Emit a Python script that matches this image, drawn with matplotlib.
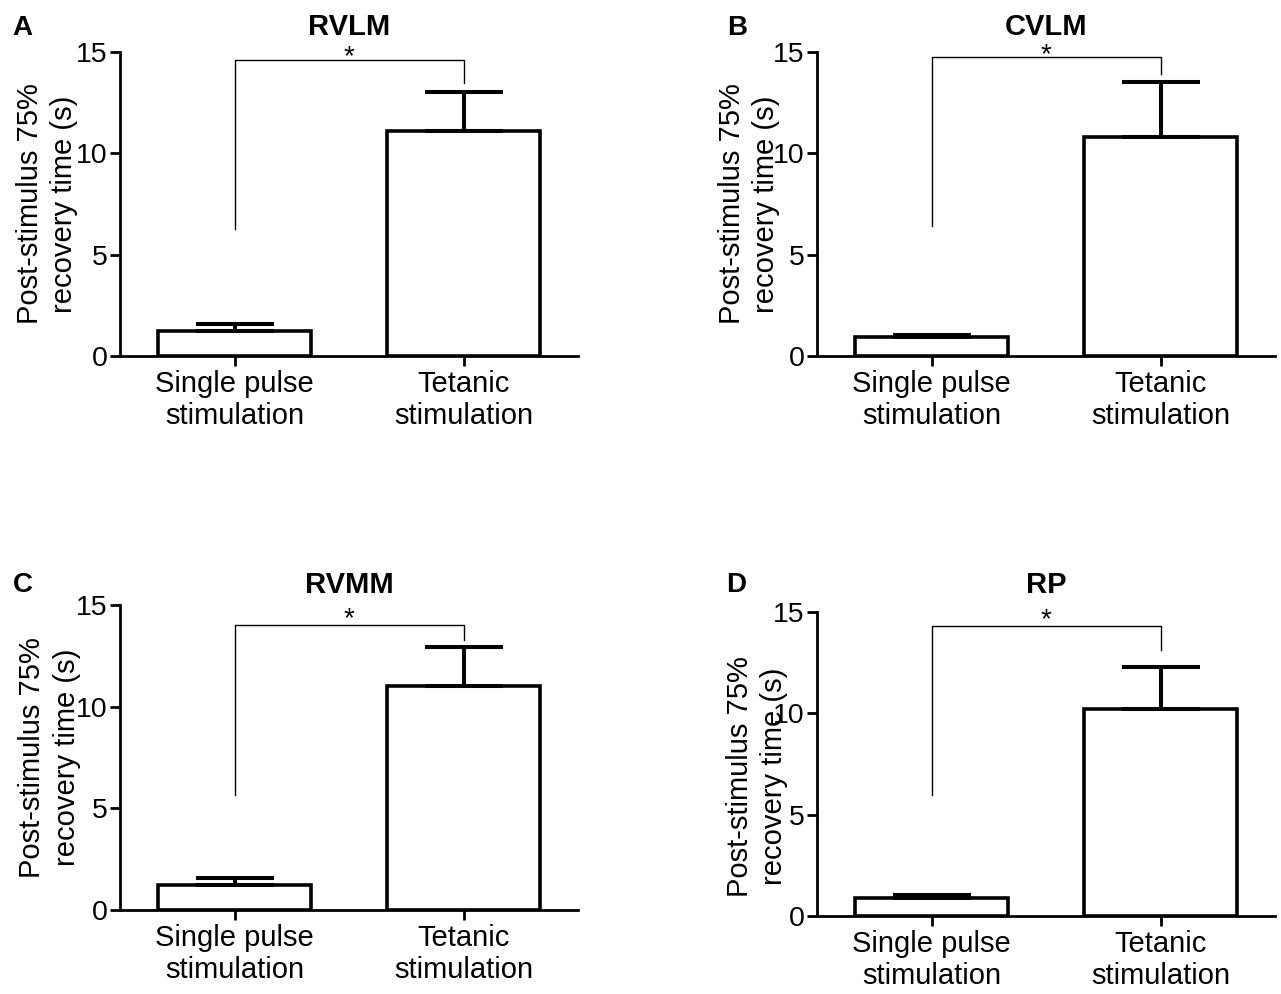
"""Four-panel bar chart: post-stimulus 75% recovery time, single pulse vs tetanic."""

import matplotlib.pyplot as plt

plt.rcParams["font.family"] = ["Liberation Sans", "DejaVu Sans"]

categories = ["Single pulse\nstimulation", "Tetanic\nstimulation"]
panel_letters = ["A", "B", "C", "D"]
regions = ["RVLM", "CVLM", "RVMM", "RP"]

# mean and upper SEM per panel (single pulse, tetanic)
rvlm_mean = [1.25, 11.1]
rvlm_err = [0.33, 1.92]
cvlm_mean = [0.94, 10.82]
cvlm_err = [0.11, 2.68]
rvmm_mean = [1.23, 11.02]
rvmm_err = [0.33, 1.93]
rp_mean = [0.90, 10.2]
rp_err = [0.13, 2.08]

# significance bracket: top, left leg bottom, right leg bottom
rvlm_bracket = [14.6, 6.25, 13.47]
cvlm_bracket = [14.75, 6.4, 13.9]
rvmm_bracket = [14.0, 5.66, 13.3]
rp_bracket = [14.3, 5.95, 13.13]

means = [rvlm_mean, cvlm_mean, rvmm_mean, rp_mean]
errs = [rvlm_err, cvlm_err, rvmm_err, rp_err]
brackets = [rvlm_bracket, cvlm_bracket, rvmm_bracket, rp_bracket]

W, H = 1281, 994
fig = plt.figure(figsize=(W / 100, H / 100), dpi=100)

# axes boxes in pixels: left, x-axis y, top y
boxes = [(120, 356, 52), (817, 356, 52), (120, 910, 605), (817, 916, 612)]
label_x = [-0.091, -0.080, -0.086, -0.063]
label_y = [0.5, 0.5, 0.5, 0.46]
title_pad = [12.2, 12.2, 8.6, 13.7]
star_y = [15.15, 15.25, 14.7, 15.0]
letter_pos = [(12, 35), (727, 35), (13, 592), (726, 592)]

x = [0, 1]
for i in range(4):
    left, bottom, top = boxes[i]
    ax = fig.add_axes([left / W, (H - bottom) / H, 458 / W, (bottom - top) / H])

    ax.bar(x, means[i], width=0.667, color="white", edgecolor="black",
           linewidth=2.6, zorder=2)
    ax.errorbar(x, means[i], yerr=[[0, 0], errs[i]], fmt="none", ecolor="black",
                elinewidth=2.9, capsize=28, capthick=2.9, zorder=3)

    b_top, b_left, b_right = brackets[i]
    ax.plot([0, 0, 1, 1], [b_left, b_top, b_top, b_right], color="black",
            linewidth=1.0, clip_on=False, zorder=4)
    ax.text(0.5, star_y[i] - 0.75, "*", ha="center", va="baseline",
            fontsize=20, clip_on=False)

    ax.set_xlim(-0.5, 1.5)
    ax.set_ylim(0, 15)
    ax.set_yticks([0, 5, 10, 15])
    ax.set_xticks(x)
    ax.set_xticklabels(categories, fontsize=21)
    ax.tick_params(axis="y", labelsize=20.5, length=7, width=2, pad=2)
    ax.tick_params(axis="x", length=7, width=2, pad=3)
    for side in ("top", "right"):
        ax.spines[side].set_visible(False)
    for side in ("left", "bottom"):
        ax.spines[side].set_linewidth(2)

    ax.set_ylabel("Post-stimulus 75%\nrecovery time (s)", fontsize=21,
                  linespacing=1.3)
    ax.yaxis.set_label_coords(label_x[i], label_y[i])
    ax.set_title(regions[i], fontsize=21, fontweight="bold", pad=title_pad[i])

    lx, ly = letter_pos[i]
    fig.text(lx / W, (H - ly) / H, panel_letters[i], fontsize=20,
             fontweight="bold", va="baseline", ha="left")

fig.savefig("out.png", dpi=100)
